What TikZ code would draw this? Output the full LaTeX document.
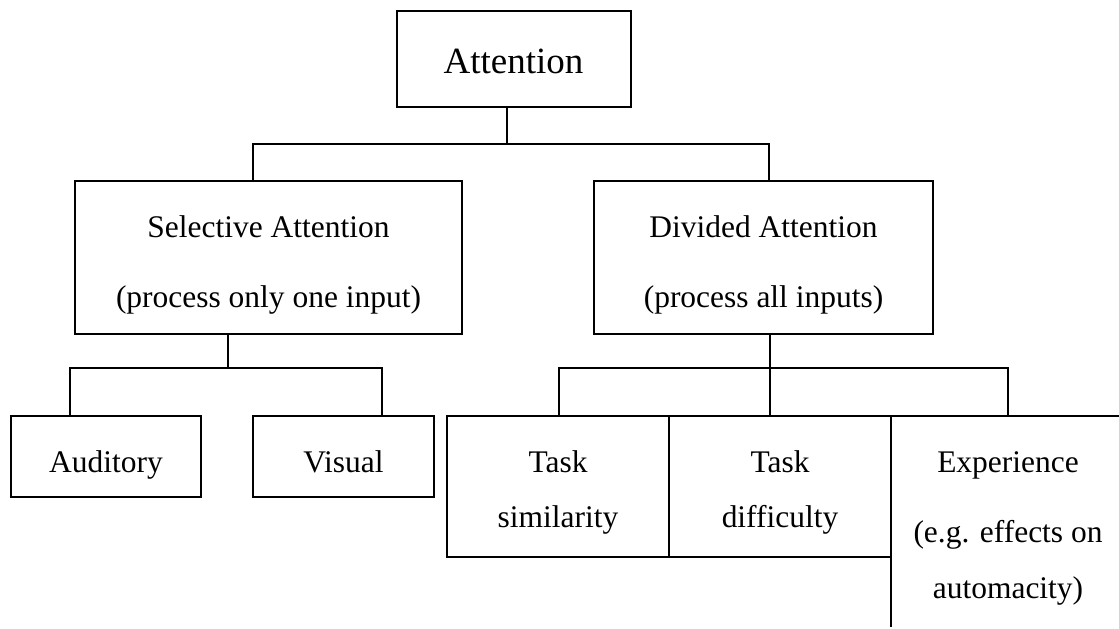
\documentclass[tikz,border=0pt]{standalone}
\usepackage{fontspec}
\setmainfont{Liberation Serif}
\begin{document}
\begin{tikzpicture}[x=0.75pt,y=-0.75pt,
  line width=1pt,
  boxnode/.style={draw, rectangle, inner sep=0pt, outer sep=0pt},
  openbox/.style={rectangle, inner sep=0pt, outer sep=0pt},
  bigtext/.style={anchor=base, inner sep=0pt, font=\fontsize{27.75pt}{33pt}\selectfont},
  txt/.style={anchor=base, inner sep=0pt, font=\fontsize{23.6pt}{28pt}\selectfont}]
\useasboundingbox (0,0) rectangle (1119,628);

% boxes
\node[boxnode, minimum width=175.5pt, minimum height=72pt] (att) at (514,59) {};
\node[boxnode, minimum width=290.25pt, minimum height=114.75pt] (sel) at (268.5,257.5) {};
\node[boxnode, minimum width=254.25pt, minimum height=114.75pt] (div) at (763.5,257.5) {};
\node[boxnode, minimum width=142.5pt, minimum height=60.75pt] (aud) at (106,456.5) {};
\node[boxnode, minimum width=135.75pt, minimum height=60.75pt] (vis) at (343.5,456.5) {};
\node[boxnode, minimum width=166.5pt, minimum height=105.75pt] (ts) at (558,486.5) {};
\node[boxnode, minimum width=166.5pt, minimum height=105.75pt] (td) at (780,486.5) {};
\node[openbox, minimum width=175.5pt, minimum height=158.25pt] (exp) at (1008,521.5) {};

% texts
\node[bigtext] (attT) at (513.5,73) {Attention};
\node[txt] (selA) at (268.5,237) {Selective Attention};
\node[txt] (selB) at (268.5,307) {(process only one input)};
\node[txt] (divA) at (763.5,237) {Divided Attention};
\node[txt] (divB) at (763.5,307) {(process all inputs)};
\node[txt] (audT) at (106,472) {Auditory};
\node[txt] (visT) at (343.5,472) {Visual};
\node[txt] (tsA) at (558,472) {Task};
\node[txt] (tsB) at (558,527) {similarity};
\node[txt] (tdA) at (780,472) {Task};
\node[txt] (tdB) at (780,527) {difficulty};
\node[txt] (expA) at (1008,472) {Experience};
\node[txt] (expB) at (1008,542) {(e.g. effects on};
\node[txt] (expC) at (1008,598) {automacity)};

% connector coordinates
\coordinate (t1) at (507,144);
\coordinate (b1l) at (253,144);
\coordinate (b1r) at (769,144);
\coordinate (t2) at (228,368);
\coordinate (b2l) at (70,368);
\coordinate (b2r) at (382,368);
\coordinate (t3) at (770,368);
\coordinate (b3l) at (559,368);
\coordinate (b3r) at (1008,368);
\coordinate (eend) at (1119,416);

% connectors
\draw (t1 |- att.south) -- (t1);
\draw (b1l |- sel.north) -- (b1l) -- (b1r) -- (b1r |- div.north);
\draw (t2 |- sel.south) -- (t2);
\draw (b2l |- aud.north) -- (b2l) -- (b2r) -- (b2r |- vis.north);
\draw (t3 |- div.south) -- (t3 |- ts.north);
\draw (b3l |- ts.north) -- (b3l) -- (b3r) -- (b3r |- exp.north);
\draw (exp.south west) -- (exp.north west) -- (eend);
\end{tikzpicture}
\end{document}
